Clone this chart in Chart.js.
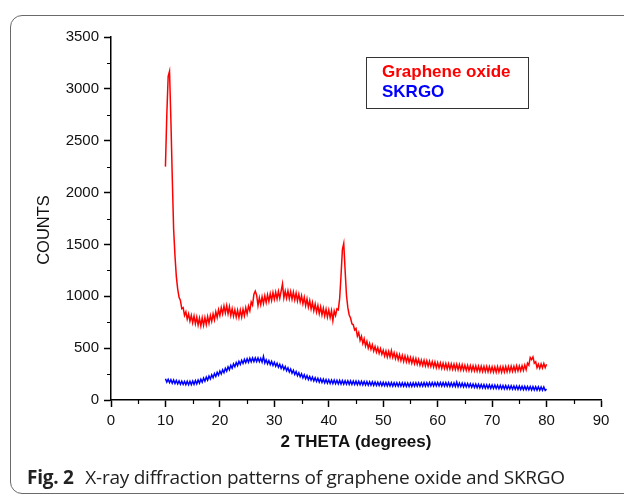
<!DOCTYPE html>
<html>
<head>
<meta charset="utf-8">
<script src="https://cdn.jsdelivr.net/npm/chart.js@4.4.1/dist/chart.umd.min.js"></script>
<style>
    html, body { margin: 0; padding: 0; background: #fff; }
    #wrap { position: relative; width: 624px; height: 495px; overflow: hidden; }
    #frame {
        position: absolute; left: 10px; top: 15px; width: 700px; height: 477px;
        border: 1.5px solid #6a6a6a; border-radius: 12px;
    }
    #myChart { position: absolute; left: 0; top: 0; }
    #caption {
        position: absolute; left: 27px; top: 464px; white-space: nowrap;
        font-family: "Open Sans", sans-serif; font-size: 19px; color: #222;
        letter-spacing: -0.25px;
    }
    #caption b { margin-right: 7px; }
</style>
</head>
<body>
<div id="wrap">
    <div id="frame"></div>
    <canvas id="myChart" width="624" height="495"></canvas>
    <div id="caption"><b>Fig. 2</b> X-ray diffraction patterns of graphene oxide and SKRGO</div>
</div>
<script>
// 2 theta sampling grid (degrees)
var thetaStart = 10;
var thetaStep = 0.25;

// Graphene oxide counts, one value per grid step, 10 -> 80 deg
var grapheneOxide = [
    2250, 2750, 3120, 3170, 2700, 2150, 1650, 1390, 1190, 1070, 990, 960, 880, 890, 815, 850, 780, 830, 760, 815,
    745, 810, 735, 800, 722, 790, 715, 792, 720, 795, 728, 805, 740, 815, 758, 830, 772, 850, 795, 870,
    815, 890, 830, 905, 838, 910, 832, 900, 815, 880, 808, 870, 800, 866, 795, 868, 800, 875, 812, 890,
    830, 905, 860, 945, 915, 1020, 1050, 1010, 910, 985, 920, 995, 930, 1005, 940, 1015, 950, 1025, 960, 1035,
    970, 1040, 975, 1048, 980, 1050, 1120, 985, 1050, 982, 1052, 978, 1045, 972, 1040, 965, 1030, 955, 1020, 945,
    1005, 928, 990, 910, 975, 895, 958, 878, 940, 862, 925, 848, 910, 832, 898, 820, 885, 810, 875, 800,
    868, 795, 862, 765, 860, 815, 880, 870, 980, 1200, 1450, 1510, 1250, 1010, 890, 820, 790, 735, 725, 675,
    690, 615, 650, 575, 615, 545, 590, 520, 565, 500, 545, 488, 532, 472, 515, 462, 505, 450, 495, 440,
    480, 425, 472, 415, 468, 415, 475, 410, 455, 398, 445, 388, 437, 380, 430, 372, 425, 368, 418, 362,
    410, 355, 405, 350, 400, 345, 392, 338, 385, 332, 382, 328, 378, 325, 374, 322, 370, 318, 366, 312,
    360, 310, 358, 305, 355, 303, 352, 300, 350, 298, 348, 296, 345, 294, 344, 292, 342, 290, 340, 288,
    335, 285, 334, 283, 332, 282, 330, 280, 328, 278, 326, 276, 325, 275, 324, 274, 323, 272, 322, 272,
    320, 270, 318, 268, 322, 270, 318, 268, 320, 270, 322, 272, 324, 274, 326, 276, 325, 277, 330, 280,
    328, 282, 330, 285, 336, 292, 355, 335, 410, 390, 415, 355, 368, 312, 345, 305, 348, 308, 352, 312,
    345
];

// SKRGO counts, same grid
var skrgo = [
    205, 172, 200, 168, 196, 162, 192, 158, 188, 155, 184, 152, 182, 150, 180, 148, 180, 147, 181, 148,
    183, 151, 187, 156, 193, 163, 201, 172, 211, 182, 221, 192, 231, 203, 243, 215, 255, 227, 267, 239,
    280, 251, 292, 263, 306, 278, 320, 291, 334, 306, 348, 320, 361, 332, 373, 343, 383, 352, 391, 360,
    398, 364, 402, 368, 405, 370, 406, 371, 405, 369, 402, 365, 420, 357, 388, 349, 380, 341, 372, 333,
    364, 326, 355, 316, 345, 305, 335, 294, 323, 282, 311, 270, 299, 258, 287, 246, 275, 234, 263, 224,
    253, 213, 243, 205, 235, 197, 227, 190, 221, 184, 215, 178, 209, 173, 205, 169, 201, 165, 197, 162,
    195, 160, 193, 158, 192, 157, 190, 155, 189, 154, 188, 153, 186, 152, 185, 151, 184, 150, 183, 149,
    182, 148, 181, 147, 180, 146, 178, 145, 177, 143, 176, 142, 175, 141, 173, 140, 172, 139, 171, 138,
    170, 137, 169, 136, 168, 135, 168, 134, 167, 134, 166, 133, 166, 132, 165, 132, 165, 131, 164, 131,
    164, 131, 165, 132, 165, 132, 166, 133, 166, 133, 167, 134, 167, 134, 168, 135, 168, 135, 169, 135,
    169, 135, 168, 134, 168, 134, 167, 133, 167, 132, 166, 131, 165, 130, 172, 129, 163, 128, 162, 127,
    160, 126, 159, 125, 157, 123, 155, 121, 153, 119, 151, 117, 150, 116, 148, 114, 147, 113, 146, 112,
    145, 111, 144, 110, 142, 109, 141, 108, 140, 107, 139, 106, 138, 105, 137, 104, 136, 103, 135, 102,
    134, 101, 133, 100, 132, 99, 131, 98, 130, 97, 129, 96, 128, 95, 127, 94, 126, 93, 125, 92,
    105
];

var seriesNames = ["Graphene oxide", "SKRGO"];
var seriesColors = ["#ff0000", "#0000ff"];

var axisFont = "'Liberation Sans', Arial, sans-serif";

function toPoints(values) {
    var pts = [];
    for (var i = 0; i < values.length; i++) {
        pts.push({ x: thetaStart + i * thetaStep, y: values[i] });
    }
    return pts;
}

// minor ticks half way between the labelled ones
var minorTicks = {
    id: "minorTicks",
    afterDraw: function (chart) {
        var ctx = chart.ctx;
        var xs = chart.scales.x, ys = chart.scales.y;
        var area = chart.chartArea;
        ctx.save();
        ctx.strokeStyle = "#000";
        ctx.lineWidth = 1.2;
        ctx.beginPath();
        for (var v = 5; v < 90; v += 10) {
            var px = Math.round(xs.getPixelForValue(v)) + 0.5;
            ctx.moveTo(px, area.bottom);
            ctx.lineTo(px, area.bottom + 4);
        }
        for (var w = 250; w < 3500; w += 500) {
            var py = Math.round(ys.getPixelForValue(w)) + 0.5;
            ctx.moveTo(area.left, py);
            ctx.lineTo(area.left - 4, py);
        }
        ctx.stroke();
        ctx.restore();
    }
};

// boxed legend inside the plot
var boxLegend = {
    id: "boxLegend",
    afterDraw: function (chart) {
        var ctx = chart.ctx;
        ctx.save();
        ctx.strokeStyle = "#333";
        ctx.lineWidth = 1;
        ctx.strokeRect(366.5, 57.5, 162, 51);
        ctx.font = "bold 17px " + axisFont;
        ctx.textBaseline = "middle";
        chart.data.datasets.forEach(function (ds, i) {
            ctx.fillStyle = ds.borderColor;
            ctx.fillText(ds.label, 382, 72 + i * 20);
        });
        ctx.restore();
    }
};

var canvasID = document.getElementById("myChart");

var myChart = new Chart(canvasID, {
    type: "scatter",
    data: {
        datasets: [
            {
                label: seriesNames[0],
                data: toPoints(grapheneOxide),
                showLine: true,
                borderColor: seriesColors[0],
                borderWidth: 1.5,
                pointRadius: 0,
                tension: 0
            },
            {
                label: seriesNames[1],
                data: toPoints(skrgo),
                showLine: true,
                borderColor: seriesColors[1],
                borderWidth: 1.5,
                pointRadius: 0,
                tension: 0
            }
        ]
    },
    options: {
        responsive: false,
        animation: false,
        devicePixelRatio: 1,
        layout: {
            padding: { left: 28, top: 37, right: 23, bottom: 40 }
        },
        plugins: {
            legend: { display: false },
            tooltip: { enabled: false }
        },
        scales: {
            x: {
                type: "linear",
                min: 0,
                max: 90,
                afterFit: function (scale) { scale.height = 55; },
                border: { display: true, color: "#000", width: 1.5 },
                grid: { drawOnChartArea: false, drawTicks: true, tickLength: 7, tickWidth: 1.5, tickColor: "#000" },
                ticks: { stepSize: 10, padding: 5, color: "#111", font: { family: axisFont, size: 15 } },
                title: {
                    display: true,
                    text: "2 THETA (degrees)",
                    color: "#111",
                    padding: { top: 0, bottom: 2 },
                    font: { family: axisFont, size: 17, weight: "bold" }
                }
            },
            y: {
                type: "linear",
                min: 0,
                max: 3500,
                afterFit: function (scale) { scale.width = 83; },
                border: { display: true, color: "#000", width: 1.5 },
                grid: { drawOnChartArea: false, drawTicks: true, tickLength: 7, tickWidth: 1.5, tickColor: "#000" },
                ticks: {
                    stepSize: 500, padding: 5, color: "#111",
                    font: { family: axisFont, size: 15 },
                    callback: function (value) { return String(value); }
                },
                title: {
                    display: true,
                    text: "COUNTS     ",
                    color: "#111",
                    padding: { top: 7, bottom: 0 },
                    font: { family: axisFont, size: 16.5 }
                }
            }
        }
    },
    plugins: [minorTicks, boxLegend]
});
</script>
</body>
</html>
